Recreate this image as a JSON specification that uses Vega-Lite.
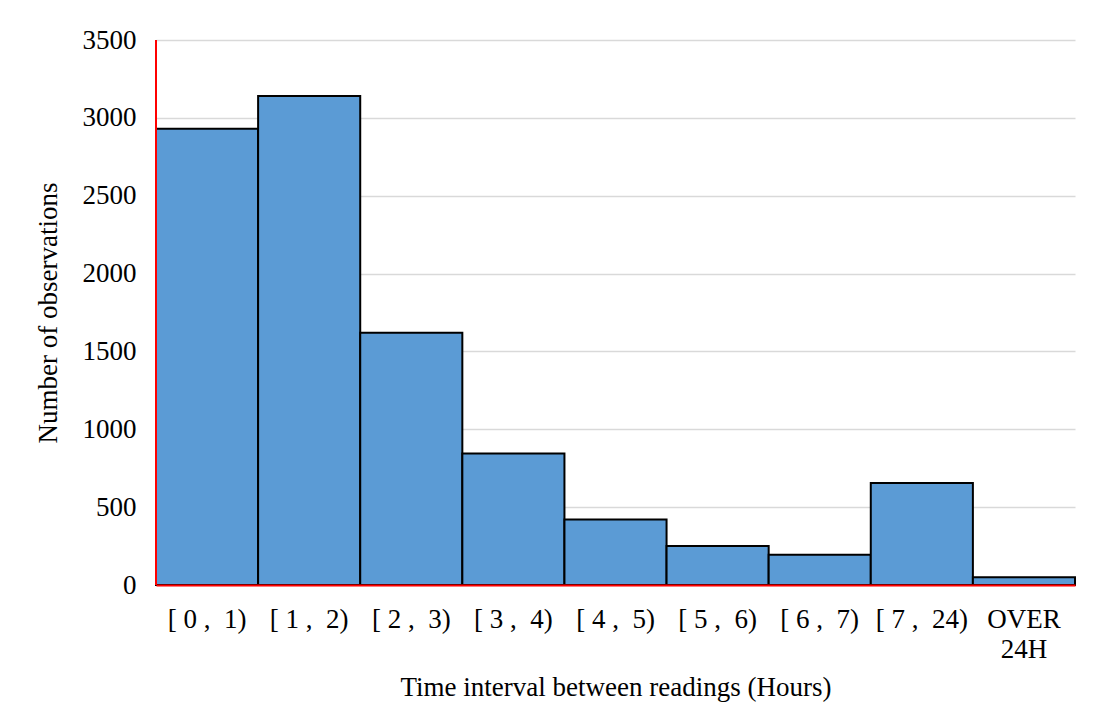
{
  "$schema": "https://vega.github.io/schema/vega-lite/v6.json",
  "width": 919,
  "height": 545,
  "autosize": "none",
  "padding": {"left": 156, "top": 40, "right": 18, "bottom": 143},
  "background": "white",
  "config": {
    "view": {"stroke": null},
    "font": "Liberation Serif",
    "axis": {
      "labelFont": "Liberation Serif",
      "titleFont": "Liberation Serif",
      "labelFontSize": 27,
      "titleFontSize": 27,
      "labelColor": "#000000",
      "titleColor": "#000000",
      "titleFontWeight": "normal",
      "ticks": false
    }
  },
  "data": {
    "values": [
      {"interval": "[ 0 ,\u00a0 1)", "observations": 2930},
      {"interval": "[ 1 ,\u00a0 2)", "observations": 3140},
      {"interval": "[ 2 ,\u00a0 3)", "observations": 1620},
      {"interval": "[ 3 ,\u00a0 4)", "observations": 845},
      {"interval": "[ 4 ,\u00a0 5)", "observations": 420},
      {"interval": "[ 5 ,\u00a0 6)", "observations": 250},
      {"interval": "[ 6 ,\u00a0 7)", "observations": 195},
      {"interval": "[ 7 ,\u00a0 24)", "observations": 655},
      {"interval": "OVER 24H", "observations": 50}
    ]
  },
  "encoding": {
    "x": {
      "field": "interval",
      "type": "nominal",
      "sort": null,
      "scale": {"paddingInner": 0, "paddingOuter": 0},
      "axis": {
        "title": "Time interval between readings (Hours)",
        "labelAngle": 0,
        "labelPadding": 21,
        "labelLineHeight": 30,
        "labelExpr": "datum.label == 'OVER 24H' ? ['OVER', '24H'] : datum.label",
        "titlePadding": 12,
        "domainColor": "#FF0000",
        "domainWidth": 2,
        "zindex": 1
      }
    }
  },
  "layer": [
    {
      "mark": {"type": "bar", "color": "#5B9BD5", "stroke": "#000000", "strokeWidth": 2},
      "encoding": {
        "y": {
          "field": "observations",
          "type": "quantitative",
          "scale": {"domain": [0, 3500]},
          "axis": {
            "title": "Number of observations",
            "values": [0, 500, 1000, 1500, 2000, 2500, 3000, 3500],
            "format": "d",
            "labelPadding": 20,
            "titlePadding": 20,
            "domain": false,
            "grid": true,
            "gridColor": "#D9D9D9",
            "gridWidth": 1.5,
            "zindex": 0
          }
        }
      }
    },
    {
      "mark": {"type": "rule", "color": "#FF0000", "strokeWidth": 2},
      "encoding": {
        "x": {"datum": "[ 0 ,\u00a0 1)", "bandPosition": 0}
      }
    }
  ]
}
